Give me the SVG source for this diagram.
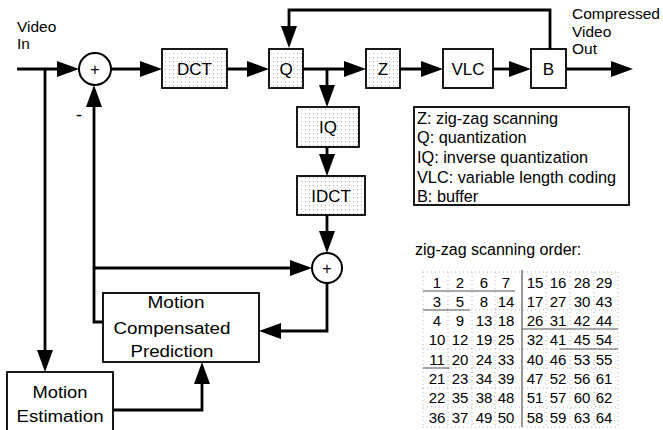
<svg xmlns="http://www.w3.org/2000/svg" width="663" height="430" viewBox="0 0 663 430">
<defs>
<style>
text{font-family:"Liberation Sans",Arial,sans-serif;fill:#000}
.box{stroke:#000;stroke-width:1.8;fill:#fff}
.dot{stroke:#000;stroke-width:1.8;fill:url(#stip)}
.lbl{font-size:17px;text-anchor:middle}
.big{font-size:16px;text-anchor:middle}
.side{font-size:15.5px}
.leg{font-size:16.3px}
.num{font-size:15px;text-anchor:middle}
.con{fill:none;stroke:#000;stroke-width:2.8;marker-end:url(#ah)}
.grid{stroke:#b5b5b5;stroke-width:1;stroke-dasharray:1 3;fill:none}
.tl{stroke:#555;stroke-width:1.2;fill:none}
</style>
<pattern id="stip" width="4" height="4" patternUnits="userSpaceOnUse">
<rect width="4" height="4" fill="#fff"/>
<rect x="1" y="1" width="1" height="1" fill="#b0b0b0"/>
</pattern>
<marker id="ah" viewBox="0 0 22 16" refX="16" refY="8" markerWidth="22" markerHeight="16" orient="auto" markerUnits="userSpaceOnUse">
<path d="M0,0 L22,8 L0,16 Z" fill="#000"/>
</marker>
</defs>
<rect width="663" height="430" fill="#fff"/>

<g id="connectors">
<path class="con" d="M17,69 H73"/>
<path class="con" d="M45,69 V366"/>
<path class="con" d="M111,69 H156"/>
<path class="con" d="M227,69 H263"/>
<path class="con" d="M303,69 H360"/>
<path class="con" d="M327,69 V101"/>
<path class="con" d="M400,69 H437"/>
<path class="con" d="M493,69 H525"/>
<path class="con" d="M566,69 H627"/>
<path class="con" d="M550,49 V10 H289 V42"/>
<path class="con" d="M327,147 V170"/>
<path class="con" d="M327,215 V247"/>
<path class="con" d="M103,322 H94 V91"/>
<path class="con" d="M94,268 H306"/>
<path class="con" d="M327,283 V331 H265"/>
<path class="con" d="M113,410 H202 V368"/>
</g>

<g id="video-in"><text class="side" x="17" y="32">Video</text><text class="side" x="17" y="49">In</text></g>
<g id="sum1"><circle cx="95" cy="69" r="16" fill="#fff" stroke="#000" stroke-width="2"/><text x="95" y="75" style="font-size:16px;text-anchor:middle">+</text></g>
<g id="minus"><text x="79" y="121" style="font-size:18px;text-anchor:middle">-</text></g>
<g id="dct"><rect class="dot" x="162" y="49" width="65" height="39"/><text class="lbl" x="194.5" y="75">DCT</text></g>
<g id="q"><rect class="dot" x="269" y="49" width="34" height="39"/><text class="lbl" x="286" y="75">Q</text></g>
<g id="z"><rect class="dot" x="366" y="49" width="34" height="39"/><text class="lbl" x="383" y="75">Z</text></g>
<g id="vlc"><rect class="box" x="443" y="49" width="50" height="39"/><text class="lbl" x="468" y="75">VLC</text></g>
<g id="b"><rect class="box" x="531" y="49" width="35" height="39"/><text class="lbl" x="548.5" y="75">B</text></g>
<g id="out"><text class="side" x="572" y="19">Compressed</text><text class="side" x="572" y="37">Video</text><text class="side" x="572" y="54">Out</text></g>
<g id="iq"><rect class="dot" x="297" y="107" width="62" height="40"/><text class="lbl" x="328" y="133">IQ</text></g>
<g id="idct"><rect class="dot" x="297" y="176" width="68" height="39"/><text class="lbl" x="331" y="202">IDCT</text></g>
<g id="sum2"><circle cx="327" cy="268" r="15" fill="#fff" stroke="#000" stroke-width="2"/><text x="327" y="274" style="font-size:16px;text-anchor:middle">+</text></g>
<g id="mcp"><rect class="box" x="103" y="293" width="156" height="69"/>
<text class="big" x="176" y="308" textLength="57" lengthAdjust="spacingAndGlyphs">Motion</text>
<text class="big" x="172" y="334" textLength="117" lengthAdjust="spacingAndGlyphs">Compensated</text>
<text class="big" x="172" y="357" textLength="83" lengthAdjust="spacingAndGlyphs">Prediction</text></g>
<g id="me"><rect class="box" x="7" y="372" width="106" height="70"/>
<text class="big" x="60" y="398" textLength="55" lengthAdjust="spacingAndGlyphs">Motion</text>
<text class="big" x="60" y="422" textLength="87" lengthAdjust="spacingAndGlyphs">Estimation</text></g>

<g id="legend"><rect class="box" x="414" y="107" width="215" height="98"/>
<text class="leg" x="417" y="124">Z: zig-zag scanning</text>
<text class="leg" x="417" y="143">Q: quantization</text>
<text class="leg" x="417" y="163">IQ: inverse quantization</text>
<text class="leg" x="417" y="183">VLC: variable length coding</text>
<text class="leg" x="417" y="202">B: buffer</text></g>

<g id="zigzag">
<text style="font-size:16px" x="415" y="255">zig-zag scanning order:</text>
<path class="grid" d="M423,272 V427 M448,272 V427 M472,272 V427 M495,272 V427 M546,272 V427 M570,272 V427 M594,272 V427 M618,272 V427 M423,272 H618 M423,310 H618 M423,349 H618 M423,368 H618 M423,388 H618 M423,407 H618 M423,427 H618"/>
<path class="tl" d="M522,270 V427 M423,291 H515 M522,329 H618 M560,349 H618 M423,310 H470 M423,368 H450"/>
<g class="num">
<text x="437" y="288">1</text><text x="460" y="288">2</text><text x="484" y="288">6</text><text x="506" y="288">7</text><text x="535" y="288">15</text><text x="558" y="288">16</text><text x="582" y="288">28</text><text x="604" y="288">29</text>
<text x="437" y="307">3</text><text x="460" y="307">5</text><text x="484" y="307">8</text><text x="506" y="307">14</text><text x="535" y="307">17</text><text x="558" y="307">27</text><text x="582" y="307">30</text><text x="604" y="307">43</text>
<text x="437" y="326">4</text><text x="460" y="326">9</text><text x="484" y="326">13</text><text x="506" y="326">18</text><text x="535" y="326">26</text><text x="558" y="326">31</text><text x="582" y="326">42</text><text x="604" y="326">44</text>
<text x="437" y="345">10</text><text x="460" y="345">12</text><text x="484" y="345">19</text><text x="506" y="345">25</text><text x="535" y="345">32</text><text x="558" y="345">41</text><text x="582" y="345">45</text><text x="604" y="345">54</text>
<text x="437" y="365">11</text><text x="460" y="365">20</text><text x="484" y="365">24</text><text x="506" y="365">33</text><text x="535" y="365">40</text><text x="558" y="365">46</text><text x="582" y="365">53</text><text x="604" y="365">55</text>
<text x="437" y="384">21</text><text x="460" y="384">23</text><text x="484" y="384">34</text><text x="506" y="384">39</text><text x="535" y="384">47</text><text x="558" y="384">52</text><text x="582" y="384">56</text><text x="604" y="384">61</text>
<text x="437" y="403">22</text><text x="460" y="403">35</text><text x="484" y="403">38</text><text x="506" y="403">48</text><text x="535" y="403">51</text><text x="558" y="403">57</text><text x="582" y="403">60</text><text x="604" y="403">62</text>
<text x="437" y="423">36</text><text x="460" y="423">37</text><text x="484" y="423">49</text><text x="506" y="423">50</text><text x="535" y="423">58</text><text x="558" y="423">59</text><text x="582" y="423">63</text><text x="604" y="423">64</text>
</g>
</g>
</svg>
